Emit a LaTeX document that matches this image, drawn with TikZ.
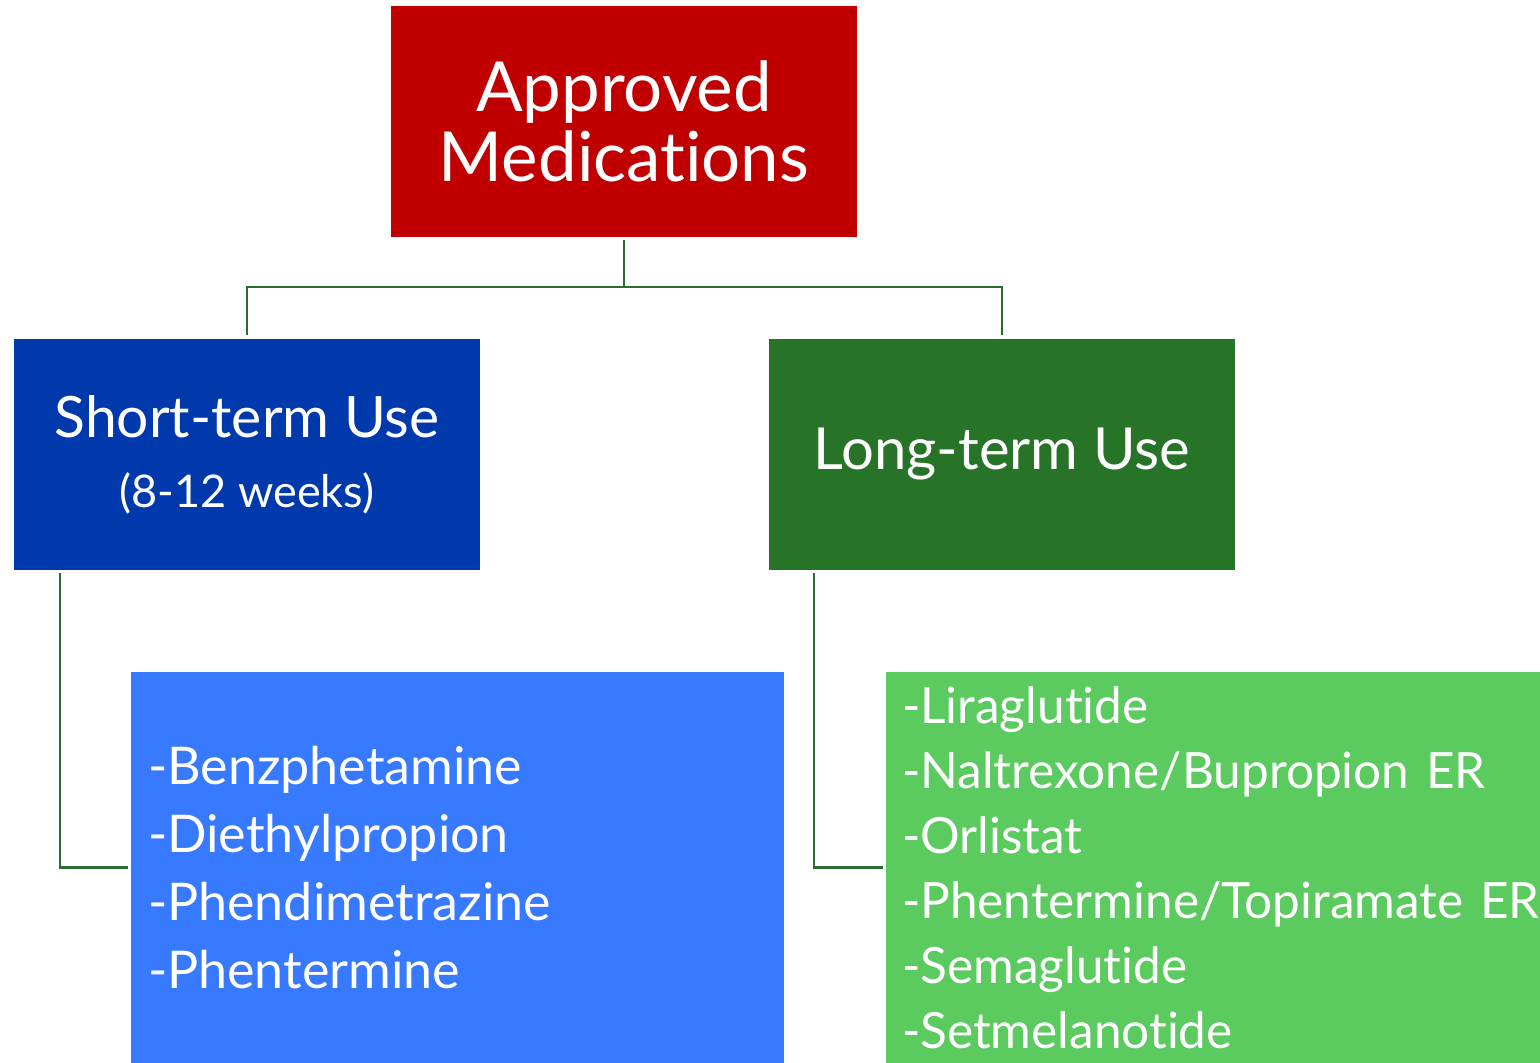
\documentclass[tikz,border=0pt]{standalone}
\usepackage{fontspec}
\setmainfont{Lato}[Ligatures={NoCommon}]
\newfontfamily\condfont{Lato}[FakeStretch=0.99,Ligatures={NoCommon},WordSpace=0.8]
\definecolor{cRed}{RGB}{192,0,0}
\definecolor{cDBlue}{RGB}{0,57,172}
\definecolor{cDGreen}{RGB}{39,116,40}
\definecolor{cLBlue}{RGB}{55,121,255}
\definecolor{cLGreen}{RGB}{92,203,95}
\definecolor{cLine}{RGB}{46,107,48}
\tikzset{
  box/.style={draw=none, inner sep=0pt, outer sep=0pt, anchor=north west, text=white},
  conn/.style={draw=cLine, line width=2.5pt},
}
\begin{document}
\begin{tikzpicture}[x=1pt,y=-1pt]
\useasboundingbox (0,0) rectangle (1540,1063);
\fill[white] (0,0) rectangle (1540,1063);
% top
\node[box, fill=cRed, minimum width=466pt, minimum height=231pt, align=center,
  font=\fontsize{69}{70}\selectfont] (top) at (391,6) {Approved\\Medications};
% second level
\node[box, fill=cDBlue, minimum width=466pt, minimum height=231pt, align=center] (short) at (14,339)
  {\fontsize{57}{60}\selectfont Short-term Use\\[34pt]\fontsize{45}{50}\selectfont (8-12 weeks)};
\node[box, fill=cDGreen, minimum width=466pt, minimum height=231pt, align=center,
  font=\fontsize{58}{60}\selectfont] (long) at (769,339) {Long-term Use};
% lists
\node[box, fill=cLBlue, minimum width=653pt, minimum height=391pt, text width=653pt,
  align=left, font=\fontsize{52}{68}\selectfont] (blist) at (131,672)
  {\hspace*{17pt}-Benzphetamine\\\hspace*{17pt}-Diethylpropion\\\hspace*{17pt}-Phendimetrazine\\\hspace*{17pt}-Phentermine};
\node[box, fill=cLGreen, minimum width=654pt, minimum height=391pt, text width=654pt,
  align=left, font=\condfont\fontsize{50}{65}\selectfont] (glist) at (886,672)
  {\hspace*{16pt}-Liraglutide\\\hspace*{16pt}-Naltrexone/Bupropion ER\\\hspace*{16pt}-Orlistat\\\hspace*{16pt}-Phentermine/Topiramate ER\\\hspace*{16pt}-Semaglutide\\\hspace*{16pt}-Setmelanotide};
% connectors
\coordinate (hub) at (624,287);
\draw[conn, shorten <=3pt] (top.south) -- (hub);
\draw[conn, shorten >=4pt] (hub) -| (short.north);
\draw[conn, shorten >=4pt] (hub) -| (long.north);
\draw[conn, shorten <=3pt, shorten >=3pt] ([xshift=46pt]short.south west) |- (blist.west);
\draw[conn, shorten <=3pt, shorten >=3pt] ([xshift=45pt]long.south west) |- (glist.west);
\end{tikzpicture}
\end{document}
